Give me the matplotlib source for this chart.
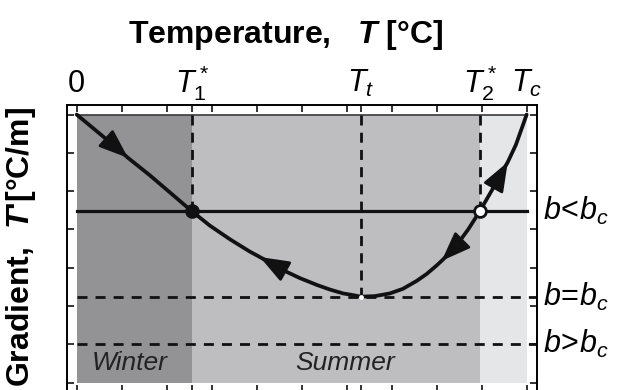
import matplotlib
matplotlib.use("Agg")
import matplotlib.pyplot as plt
from matplotlib.patches import Rectangle

# Temperatures marked along the top axis
T_star1 = 2.556
T_t = 6.32
T_star2 = 8.96
T_c = 10.0
top_ticks = [0, T_star1, T_t, T_star2, T_c]
top_labels = ["0", r"$T_1^*$", r"$T_t$", r"$T_2^*$", r"$T_c$"]

# Gradient levels of the three b cases
b_levels = [4.48, 2.245, 1.0]
b_labels = [r"$b\!<\!b_c$", r"$b\!=\!b_c$", r"$b\!>\!b_c$"]
b_styles = ["-", "--", "--"]

# Gradient curve T'(T)
T_curve = [0.0, 0.85, 1.14, 1.63, 2.556, 2.96, 3.41, 3.85, 4.07, 4.30, 4.58,
           4.96, 5.34, 5.63, 5.92, 6.12, 6.32, 6.63, 6.96, 7.25, 7.56, 7.78,
           8.0, 8.11, 8.23, 8.45, 8.70, 8.96, 9.23, 9.47, 9.58, 9.76, 10.0]
G_curve = [7.0, 6.17, 5.87, 5.41, 4.48, 4.10, 3.74, 3.42, 3.28, 3.13, 2.94,
           2.73, 2.55, 2.43, 2.33, 2.29, 2.245, 2.26, 2.33, 2.45, 2.66, 2.84,
           3.06, 3.18, 3.32, 3.60, 4.00, 4.48, 5.03, 5.53, 5.76, 6.21, 7.0]
# (tail, head) indices into the curve for the direction arrows
arrows = [(1, 2), (9, 8), (24, 23), (29, 30)]

G_top = 7.0

plt.rcParams['font.family'] = ['Liberation Sans', 'DejaVu Sans']
plt.rcParams['mathtext.fontset'] = 'custom'
plt.rcParams['mathtext.rm'] = 'Liberation Sans'
plt.rcParams['mathtext.it'] = 'Liberation Sans:italic'
plt.rcParams['mathtext.bf'] = 'Liberation Sans:bold'
plt.rcParams['mathtext.bfit'] = 'Liberation Sans:bold:italic'

fig = plt.figure(figsize=(6.23, 3.90), dpi=100)
ax = fig.add_axes([0.1075, -0.005, 0.7545, 0.7358])
ax.set_xlim(-0.216, 10.23)
ax.set_ylim(-0.243, 7.25)

# seasons shading
ax.add_patch(Rectangle((0, 0), T_star1, G_top, color="#939395", lw=0, zorder=0))
ax.add_patch(Rectangle((T_star1, 0), T_star2 - T_star1, G_top, color="#bebec1", lw=0, zorder=0))
ax.add_patch(Rectangle((T_star2, 0), T_c - T_star2, G_top, color="#e5e6e8", lw=0, zorder=0))
ax.plot([0, T_c], [G_top, G_top], color="#3a3a3a", lw=1.2, zorder=1)

ax.text(1.18, 0.52, "Winter", style="italic", fontsize=19, color="#222222",
        ha="center", va="center")
ax.text(5.97, 0.52, "Summer", style="italic", fontsize=19, color="#222222",
        ha="center", va="center")

# b lines
for lvl, ls in zip(b_levels, b_styles):
    if ls == "-":
        ax.plot([0, T_c], [lvl, lvl], color="#111111", lw=2.3, zorder=2)
    else:
        ax.plot([0, 10.2], [lvl, lvl], color="#111111", lw=2.0, ls=(0, (3.6, 2.9)), zorder=2)

# vertical markers down from the top
for t, g in [(T_star1, b_levels[0]), (T_t, b_levels[1]), (T_star2, b_levels[0])]:
    ax.plot([t, t], [G_top, g], color="#111111", lw=2.0, ls=(0, (3.6, 2.6)), zorder=2)

ax.plot(T_curve, G_curve, color="#111111", lw=2.7, solid_capstyle="round",
        solid_joinstyle="round", zorder=3)

for i, j in arrows:
    ax.annotate("", xy=(T_curve[j], G_curve[j]), xytext=(T_curve[i], G_curve[i]),
                arrowprops=dict(arrowstyle="-|>,head_length=0.9,head_width=0.34",
                                color="#111111", lw=2.0, shrinkA=0, shrinkB=0,
                                mutation_scale=20), zorder=4)

ax.plot([T_star1], [b_levels[0]], "o", ms=9.5, color="#111111", zorder=5)
ax.plot([T_star2], [b_levels[0]], "o", ms=8.5, mfc="white", mec="#111111", mew=2, zorder=5)
ax.plot([T_t], [b_levels[1]], "o", ms=3.5, color="white", mew=0, zorder=5)

# labels for the top temperatures and the b cases
for t, lab in zip(top_ticks, top_labels):
    ax.text(t, 7.58, lab, fontsize=22, ha="center", va="baseline")
for lvl, lab in zip(b_levels, b_labels):
    ax.text(10.37, lvl, lab, fontsize=22, ha="left", va="center")

ax.set_xticks(list(range(0, 11)) + [T_star1, T_t])
ax.set_yticks(range(0, 8))
ax.tick_params(direction="in", length=5, width=1.2, top=True, right=True,
               labelbottom=False, labelleft=False, colors="#111111")
for s in ax.spines.values():
    s.set_linewidth(1.4)

fig.text(0.458, 0.91, r"Temperature,   $\mathbfit{T}$ [°C]", fontsize=23,
         fontweight="bold", ha="center", va="center")
fig.text(0.034, 0.367, r"Gradient,  $\mathbfit{T}$'[°C/m]", fontsize=23,
         fontweight="bold", rotation=90, ha="center", va="center")

fig.savefig("out.png", dpi=100)
